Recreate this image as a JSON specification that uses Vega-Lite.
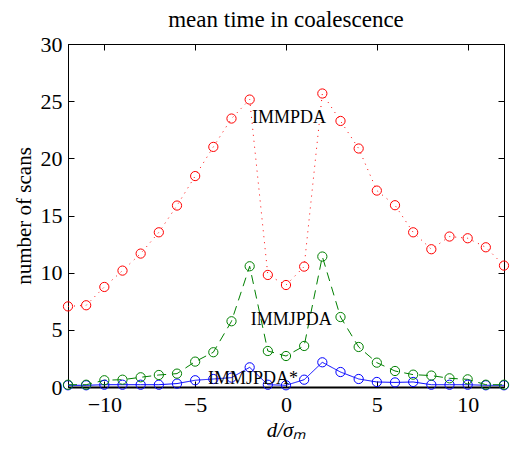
{
  "$schema": "https://vega.github.io/schema/vega-lite/v6.json",
  "width": 436,
  "height": 343,
  "autosize": "none",
  "padding": {"left": 68, "top": 44, "right": 13, "bottom": 68},
  "background": "white",
  "title": {"text": "mean time in coalescence", "font": "Liberation Serif", "fontSize": 23, "fontWeight": "normal", "color": "black", "offset": 1},
  "config": {
    "view": {"stroke": "black", "strokeWidth": 1},
    "axis": {"labelFont": "Liberation Serif", "titleFont": "Liberation Serif", "labelFontSize": 22, "titleFontSize": 21, "titleFontWeight": "normal", "labelColor": "black", "titleColor": "black", "domainColor": "black", "tickColor": "black", "grid": false, "tickSize": -6, "labelFlush": false, "labelOverlap": false}
  },
  "datasets": {
    "series": [
      {"x": -12, "s": "IMMJPDA*", "v": 0.15}, {"x": -11, "s": "IMMJPDA*", "v": 0.15}, {"x": -10, "s": "IMMJPDA*", "v": 0.2}, {"x": -9, "s": "IMMJPDA*", "v": 0.2}, {"x": -8, "s": "IMMJPDA*", "v": 0.2}, {"x": -7, "s": "IMMJPDA*", "v": 0.2}, {"x": -6, "s": "IMMJPDA*", "v": 0.3}, {"x": -5, "s": "IMMJPDA*", "v": 0.59}, {"x": -4, "s": "IMMJPDA*", "v": 0.7}, {"x": -3, "s": "IMMJPDA*", "v": 0.82}, {"x": -2, "s": "IMMJPDA*", "v": 1.72}, {"x": -1, "s": "IMMJPDA*", "v": 0.2}, {"x": 0, "s": "IMMJPDA*", "v": 0.15}, {"x": 1, "s": "IMMJPDA*", "v": 0.64}, {"x": 2, "s": "IMMJPDA*", "v": 2.16}, {"x": 3, "s": "IMMJPDA*", "v": 1.31}, {"x": 4, "s": "IMMJPDA*", "v": 0.7}, {"x": 5, "s": "IMMJPDA*", "v": 0.44}, {"x": 6, "s": "IMMJPDA*", "v": 0.4}, {"x": 7, "s": "IMMJPDA*", "v": 0.44}, {"x": 8, "s": "IMMJPDA*", "v": 0.2}, {"x": 9, "s": "IMMJPDA*", "v": 0.2}, {"x": 10, "s": "IMMJPDA*", "v": 0.2}, {"x": 11, "s": "IMMJPDA*", "v": 0.15}, {"x": 12, "s": "IMMJPDA*", "v": 0.15},
      {"x": -12, "s": "IMMJPDA", "v": 0.2}, {"x": -11, "s": "IMMJPDA", "v": 0.2}, {"x": -10, "s": "IMMJPDA", "v": 0.59}, {"x": -9, "s": "IMMJPDA", "v": 0.64}, {"x": -8, "s": "IMMJPDA", "v": 0.85}, {"x": -7, "s": "IMMJPDA", "v": 1.05}, {"x": -6, "s": "IMMJPDA", "v": 1.17}, {"x": -5, "s": "IMMJPDA", "v": 2.22}, {"x": -4, "s": "IMMJPDA", "v": 3.04}, {"x": -3, "s": "IMMJPDA", "v": 5.75}, {"x": -2, "s": "IMMJPDA", "v": 10.56}, {"x": -1, "s": "IMMJPDA", "v": 3.15}, {"x": 0, "s": "IMMJPDA", "v": 2.71}, {"x": 1, "s": "IMMJPDA", "v": 3.59}, {"x": 2, "s": "IMMJPDA", "v": 11.41}, {"x": 3, "s": "IMMJPDA", "v": 6.12}, {"x": 4, "s": "IMMJPDA", "v": 3.5}, {"x": 5, "s": "IMMJPDA", "v": 2.13}, {"x": 6, "s": "IMMJPDA", "v": 1.4}, {"x": 7, "s": "IMMJPDA", "v": 1.08}, {"x": 8, "s": "IMMJPDA", "v": 1.0}, {"x": 9, "s": "IMMJPDA", "v": 0.76}, {"x": 10, "s": "IMMJPDA", "v": 0.67}, {"x": 11, "s": "IMMJPDA", "v": 0.2}, {"x": 12, "s": "IMMJPDA", "v": 0.2},
      {"x": -12, "s": "IMMPDA", "v": 7.05}, {"x": -11, "s": "IMMPDA", "v": 7.15}, {"x": -10, "s": "IMMPDA", "v": 8.75}, {"x": -9, "s": "IMMPDA", "v": 10.18}, {"x": -8, "s": "IMMPDA", "v": 11.67}, {"x": -7, "s": "IMMPDA", "v": 13.53}, {"x": -6, "s": "IMMPDA", "v": 15.87}, {"x": -5, "s": "IMMPDA", "v": 18.45}, {"x": -4, "s": "IMMPDA", "v": 21.0}, {"x": -3, "s": "IMMPDA", "v": 23.48}, {"x": -2, "s": "IMMPDA", "v": 25.14}, {"x": -1, "s": "IMMPDA", "v": 9.8}, {"x": 0, "s": "IMMPDA", "v": 8.92}, {"x": 1, "s": "IMMPDA", "v": 10.53}, {"x": 2, "s": "IMMPDA", "v": 25.67}, {"x": 3, "s": "IMMPDA", "v": 23.27}, {"x": 4, "s": "IMMPDA", "v": 20.86}, {"x": 5, "s": "IMMPDA", "v": 17.18}, {"x": 6, "s": "IMMPDA", "v": 15.9}, {"x": 7, "s": "IMMPDA", "v": 13.53}, {"x": 8, "s": "IMMPDA", "v": 12.05}, {"x": 9, "s": "IMMPDA", "v": 13.16}, {"x": 10, "s": "IMMPDA", "v": 13.01}, {"x": 11, "s": "IMMPDA", "v": 12.22}, {"x": 12, "s": "IMMPDA", "v": 10.62}
    ],
    "labels": [
      {"x": 0.17, "v": 23.07, "t": "IMMPDA", "a": "center"},
      {"x": 0.29, "v": 5.4, "t": "IMMJPDA", "a": "center"},
      {"x": -1.82, "v": 0.3, "t": "IMMJPDA*", "a": "left"}
    ]
  },
  "layer": [
    {
      "data": {"name": "series"},
      "mark": {"type": "line", "strokeWidth": 1, "clip": true},
      "encoding": {
        "x": {"field": "x", "type": "quantitative", "scale": {"domain": [-12, 12], "nice": false, "zero": false}, "axis": {"orient": "bottom", "values": [-10, -5, 0, 5, 10], "title": "d/σₘ", "titleFontStyle": "italic", "labelPadding": 13, "titlePadding": 4, "domainWidth": 2}},
        "y": {"field": "v", "type": "quantitative", "scale": {"domain": [0, 30], "nice": false}, "axis": {"orient": "left", "values": [0, 5, 10, 15, 20, 25, 30], "title": "number of scans", "labelPadding": 12, "titlePadding": 6}},
        "color": {"field": "s", "type": "nominal", "scale": {"domain": ["IMMPDA", "IMMJPDA", "IMMJPDA*"], "range": ["#ff0000", "#008000", "#0000ff"]}, "legend": null},
        "strokeDash": {"field": "s", "type": "nominal", "scale": {"domain": ["IMMPDA", "IMMJPDA", "IMMJPDA*"], "range": [[1, 5], [9, 6], [1, 0]]}, "legend": null},
        "detail": {"field": "s"}
      }
    },
    {
      "data": {"name": "series"},
      "mark": {"type": "point", "shape": "circle", "filled": false, "size": 85, "strokeWidth": 1, "opacity": 1},
      "encoding": {
        "x": {"field": "x", "type": "quantitative", "axis": null},
        "y": {"field": "v", "type": "quantitative", "axis": null},
        "color": {"field": "s", "type": "nominal", "legend": null}
      }
    },
    {
      "data": {"name": "labels"},
      "mark": {"type": "text", "font": "Liberation Serif", "fontSize": 18, "baseline": "alphabetic", "color": "black"},
      "encoding": {
        "x": {"field": "x", "type": "quantitative", "axis": null},
        "y": {"field": "v", "type": "quantitative", "axis": null},
        "text": {"field": "t"},
        "align": {"field": "a"}
      }
    },
    {
      "data": {"values": [{"x": 0, "v": 0}]},
      "mark": {"type": "point", "opacity": 0},
      "encoding": {
        "x": {"field": "x", "type": "quantitative", "axis": {"orient": "top", "values": [-10, -5, 0, 5, 10], "labels": false, "title": null}},
        "y": {"field": "v", "type": "quantitative", "axis": {"orient": "right", "values": [0, 5, 10, 15, 20, 25, 30], "labels": false, "title": null}}
      }
    }
  ],
  "resolve": {"axis": {"x": "independent", "y": "independent"}}
}
